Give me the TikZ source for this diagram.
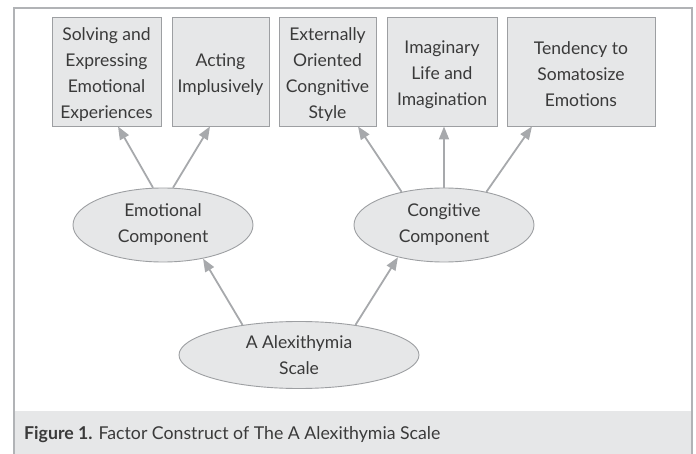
\documentclass[tikz,border=0pt]{standalone}
\usepackage{fontspec}
\setmainfont{Lato}
\usetikzlibrary{shapes.geometric,arrows.meta,calc}
\definecolor{boxfill}{HTML}{E6E7E8}
\definecolor{boxline}{HTML}{9D9FA2}
\definecolor{framec}{HTML}{B1B3B6}
\definecolor{arrc}{HTML}{A7A9AC}
\definecolor{txt}{HTML}{3A3A3A}
\newcommand{\firstst}{\rule{0pt}{19pt}}
\tikzset{
  factorbox/.style={draw=boxline, fill=boxfill, line width=0.9pt, minimum height=109pt, inner sep=0pt, align=center, text=txt, font=\fontsize{17.5}{26}\selectfont},
  compell/.style={ellipse, draw=boxline, fill=boxfill, line width=0.9pt, inner sep=0pt, align=center, text=txt, font=\fontsize{17.5}{26}\selectfont},
  arr/.style={draw=arrc, line width=1.8pt, -{Triangle[length=13pt,width=10pt]}}
}
\begin{document}
\begin{tikzpicture}[x=1pt,y=-1pt]
\useasboundingbox (0,0) rectangle (696,454);
\fill[boxfill] (14,411) rectangle (692,454);
\draw[framec, line width=1.3pt] (14,454) -- (14,8) -- (692,8) -- (692,454);

\node[factorbox, minimum width=109pt] (b1) at (106.5,71.5) {\firstst Solving and\\Expressing\\Emotional\\Experiences};
\node[factorbox, minimum width=97pt] (b2) at (220.5,71.5) {\firstst Acting\\Implusively};
\node[factorbox, minimum width=97pt] (b3) at (327.5,71.5) {\firstst Externally\\Oriented\\Congnitive\\Style};
\node[factorbox, minimum width=110pt] (b4) at (442,71.5) {\firstst Imaginary\\Life and\\Imagination};
\node[factorbox, minimum width=148pt] (b5) at (581,71.5) {\firstst Tendency to\\Somatosize\\Emotions};

\node[compell, minimum width=180pt, minimum height=74pt] (emo) at (163,225) {Emotional\\Component};
\node[compell, minimum width=180pt, minimum height=74pt] (cog) at (444,225) {Congitive\\Component};
\node[compell, minimum width=240pt, minimum height=67pt] (alex) at (299,355) {A Alexithymia\\Scale};

\draw[arr] (emo.105) -- ($(b1.south)+(11.5,0)$);
\draw[arr] (emo.75) -- ($(b2.south)+(-10.5,0)$);
\draw[arr] (cog.142) -- ($(b3.south)+(30.5,0)$);
\draw[arr] (cog.north) -- (cog.north |- b4.south);
\draw[arr] (cog.38) -- ($(b5.south)+(-49,0)$);
\draw[arr] (alex.152) -- (emo.320);
\draw[arr] (alex.28) -- (cog.215);

\node[anchor=west, text=txt, font=\fontsize{17.7}{20}\selectfont, inner sep=0pt] (cap) at (24,435) {\textbf{Figure 1.} Factor Construct of The A Alexithymia Scale};
\end{tikzpicture}
\end{document}
